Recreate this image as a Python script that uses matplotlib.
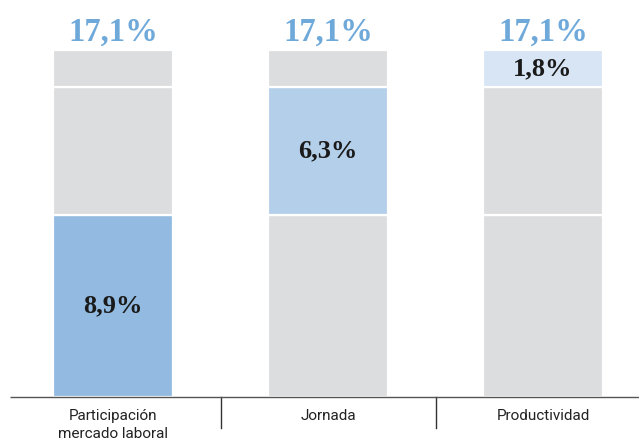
import matplotlib
matplotlib.use("Agg")
import matplotlib.pyplot as plt

# Contributions to growth (percentage points)
categories = ["Participación\nmercado laboral", "Jornada", "Productividad"]
segments = [8.9, 6.3, 1.8]
segment_labels = ["8,9%", "6,3%", "1,8%"]
total_label = "17,1%"

highlight_colors = ["#93bbe1", "#b4cfe9", "#d7e5f5"]
gray = "#dcdddf"
title_blue = "#6fa9da"

W, H = 639, 445
fig = plt.figure(figsize=(W / 100, H / 100), dpi=100)
ax = fig.add_axes([0, 0, 1, 1])

# pixel geometry -> data limits
cx0, step = 113.0, 215.0
base_px, ppu = 397.0, 20.4
ax.set_xlim(-cx0 / step, (W - cx0) / step)
ax.set_ylim(-(H - base_px) / ppu, base_px / ppu)
ax.axis("off")

bar_w = 120 / step
x = list(range(len(categories)))

serif = ["Liberation Serif", "DejaVu Serif"]
for i in x:
    bottom = 0.0
    for j, v in enumerate(segments):
        color = highlight_colors[j] if i == j else gray
        ax.bar(i, v, width=bar_w, bottom=bottom, color=color,
               edgecolor="white", linewidth=1.6, zorder=2)
        if i == j:
            ax.text(i, bottom + v / 2, segment_labels[j], ha="center",
                    va="center", fontsize=19, fontweight="bold",
                    family=serif, color="#1a1a1a", zorder=3)
        bottom += v
    ax.text(i, (base_px - 32) / ppu, total_label, ha="center", va="center",
            fontsize=23.5, fontweight="bold", family=serif, color=title_blue)
    ax.text(i, -(409 - base_px) / ppu, categories[i], ha="center", va="top",
            fontsize=11, family=["Roboto", "DejaVu Sans"], color="#222222",
            linespacing=1.4)

# baseline and category separators
ax.plot([-(cx0 - 10) / step, (W - cx0) / step], [0, 0], color="#555555",
        linewidth=1.0, zorder=4, solid_capstyle="butt")
for sx in [0.5, 1.5]:
    ax.plot([sx, sx], [0, -31 / ppu], color="#333333", linewidth=1.0)

fig.savefig("out.png", dpi=100)
